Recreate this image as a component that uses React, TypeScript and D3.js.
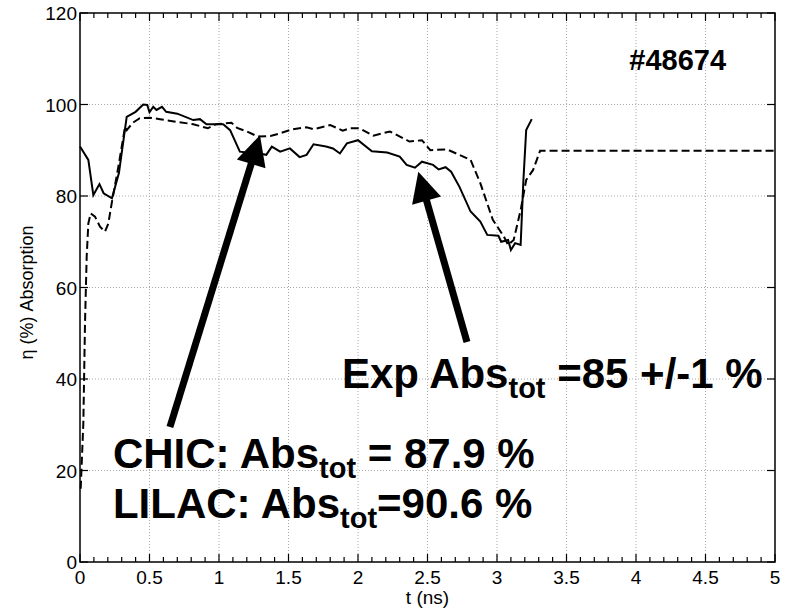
import React from "react";
import * as d3 from "d3";

const expT = [0, 0.06, 0.096, 0.14, 0.17, 0.23, 0.28, 0.336, 0.40, 0.455, 0.484, 0.50, 0.527, 0.55, 0.59, 0.62, 0.70, 0.815, 0.863, 0.91, 1.03, 1.08, 1.15, 1.20, 1.27, 1.34, 1.38, 1.44, 1.51, 1.58, 1.63, 1.68, 1.77, 1.82, 1.87, 1.92, 2.0, 2.10, 2.21, 2.30, 2.35, 2.41, 2.46, 2.54, 2.58, 2.63, 2.67, 2.73, 2.81, 2.88, 2.93, 3.01, 3.03, 3.08, 3.10, 3.13, 3.17, 3.19, 3.21, 3.25];
const expV = [90.8, 87.9, 80.2, 82.6, 80.6, 79.5, 85, 97.3, 98.4, 100, 99.9, 98.3, 99.5, 98.8, 99.5, 98.4, 98, 96.6, 96.8, 95.7, 95.7, 94.4, 89.7, 89.5, 89.4, 89, 90.8, 89.7, 90.4, 88.5, 89, 91.3, 90.8, 90.4, 89.3, 91.5, 92.2, 89.8, 89.5, 88.6, 86.8, 86.2, 87.5, 86.8, 85.8, 86.3, 85.3, 82, 76.6, 74.4, 71.5, 71.3, 70, 70.4, 68.2, 69.7, 69.3, 83.5, 94.4, 96.8];

const simT = [0.005, 0.024, 0.036, 0.048, 0.06, 0.077, 0.108, 0.144, 0.18, 0.204, 0.228, 0.276, 0.324, 0.336, 0.38, 0.43, 0.50, 0.576, 0.695, 0.815, 0.92, 0.98, 1.09, 1.13, 1.20, 1.28, 1.37, 1.44, 1.53, 1.63, 1.68, 1.80, 1.89, 1.94, 2.01, 2.11, 2.23, 2.37, 2.46, 2.52, 2.64, 2.81, 2.88, 2.97, 3.05, 3.08, 3.12, 3.17, 3.21, 3.26, 3.31, 5.0];
const simV = [16, 30.3, 52.2, 66.7, 74, 76.2, 75.5, 73.3, 72.2, 74, 78.4, 86.4, 95.1, 94.4, 96, 97, 97.1, 96.8, 96.2, 95.7, 94.8, 95.7, 96, 94.9, 94.1, 93, 93.1, 93.7, 94.6, 95, 94.6, 95.5, 94.3, 94.8, 94.8, 93.2, 94.1, 91.9, 92.2, 90, 90.2, 87.9, 82.8, 74.8, 71.1, 69.3, 70.4, 76.9, 83.5, 85.7, 89.9, 89.9];

const xTicks = [0, 0.5, 1, 1.5, 2, 2.5, 3, 3.5, 4, 4.5, 5];
const xTickLabels = ["0", "0.5", "1", "1.5", "2", "2.5", "3", "3.5", "4", "4.5", "5"];
const yTicks = [0, 20, 40, 60, 80, 100, 120];
const yTickLabels = ["0", "20", "40", "60", "80", "100", "120"];

// arrows in data units: [tailT, tailV, tipT, tipV]
const arrowChic = [0.647, 29.5, 1.295, 93.3];
const arrowExp = [2.784, 48.1, 2.434, 85.3];

const ML = 80, MR = 775, MT = 13, MB = 562;

export default function App() {
  const x = d3.scaleLinear().domain([0, 5]).range([ML, MR]);
  const y = d3.scaleLinear().domain([0, 120]).range([MB, MT]);
  const minorX = d3.range(0, 5.0001, 0.1).filter((v) => Math.abs(v * 2 - Math.round(v * 2)) > 1e-6);

  const lineGen = d3.line<[number, number]>().x((d) => x(d[0])).y((d) => y(d[1]));
  const expPath = lineGen(expT.map((t, i) => [t, expV[i]]) as [number, number][]) || "";
  const simPath = lineGen(simT.map((t, i) => [t, simV[i]]) as [number, number][]) || "";

  const arrow = (a: number[], key: string) => {
    const x1 = x(a[0]), y1 = y(a[1]), x2 = x(a[2]), y2 = y(a[3]);
    const dx = x2 - x1, dy = y2 - y1;
    const L = Math.hypot(dx, dy);
    const ux = dx / L, uy = dy / L;
    const hl = 30, hw = 15;
    const bx = x2 - ux * hl, by = y2 - uy * hl;
    const px = -uy, py = ux;
    const pts = [[x2, y2], [bx + px * hw, by + py * hw], [bx - px * hw, by - py * hw]];
    return (
      <g key={key}>
        <line x1={x1} y1={y1} x2={bx + ux * 2} y2={by + uy * 2} stroke="#000" strokeWidth={7} />
        <polygon points={pts.map((p) => p.join(",")).join(" ")} fill="#000" />
      </g>
    );
  };

  const font = "'Liberation Sans', Arial, Helvetica, sans-serif";

  return (
    <svg width={788} height={610} style={{ position: "absolute", left: 0, top: 0, background: "#fff" }} fontFamily={font}>
      <rect x={0} y={0} width={788} height={610} fill="#fff" />
      {/* grid */}
      {xTicks.slice(1, -1).map((t) => (
        <line key={"gx" + t} x1={x(t)} x2={x(t)} y1={MT} y2={MB} stroke="#a8a8a8" strokeWidth={1} strokeDasharray="1,2" />
      ))}
      {yTicks.slice(1, -1).map((v) => (
        <line key={"gy" + v} x1={ML} x2={MR} y1={y(v)} y2={y(v)} stroke="#a8a8a8" strokeWidth={1} strokeDasharray="1,2" />
      ))}
      {/* ticks */}
      {xTicks.map((t) => (
        <g key={"tx" + t}>
          <line x1={x(t)} x2={x(t)} y1={MB} y2={MB - 8} stroke="#000" strokeWidth={1.2} />
          <line x1={x(t)} x2={x(t)} y1={MT} y2={MT + 8} stroke="#000" strokeWidth={1.2} />
        </g>
      ))}
      {minorX.map((t) => (
        <g key={"mx" + t}>
          <line x1={x(t)} x2={x(t)} y1={MB} y2={MB - 5} stroke="#000" strokeWidth={1.2} />
          <line x1={x(t)} x2={x(t)} y1={MT} y2={MT + 5} stroke="#000" strokeWidth={1.2} />
        </g>
      ))}
      {yTicks.map((v) => (
        <g key={"ty" + v}>
          <line x1={ML} x2={ML + 8} y1={y(v)} y2={y(v)} stroke="#000" strokeWidth={1.2} />
          <line x1={MR} x2={MR - 8} y1={y(v)} y2={y(v)} stroke="#000" strokeWidth={1.2} />
        </g>
      ))}
      {/* data */}
      <path d={simPath} fill="none" stroke="#000" strokeWidth={2} strokeDasharray="8,4" />
      <path d={expPath} fill="none" stroke="#000" strokeWidth={2} />
      {/* box */}
      <rect x={ML} y={MT} width={MR - ML} height={MB - MT} fill="none" stroke="#000" strokeWidth={1.5} />
      {/* tick labels */}
      {xTicks.map((t, i) => (
        <text key={"lx" + t} x={x(t)} y={MB + 22} textAnchor="middle" fontSize={19} fill="#000">{xTickLabels[i]}</text>
      ))}
      {yTicks.map((v, i) => (
        <text key={"ly" + v} x={ML - 3} y={y(v) + 7} textAnchor="end" fontSize={19} fill="#000">{yTickLabels[i]}</text>
      ))}
      <text x={(ML + MR) / 2} y={604} textAnchor="middle" fontSize={19} fill="#000">t (ns)</text>
      <text transform={`translate(33,${(MT + MB) / 2 + 5}) rotate(-90)`} textAnchor="middle" fontSize={18} fill="#000">η (%) Absorption</text>
      {/* arrows */}
      {arrow(arrowChic, "a1")}
      {arrow(arrowExp, "a2")}
      {/* annotations */}
      <text x={x(4.3)} y={y(107.5)} textAnchor="middle" fontSize={29} fontWeight="bold" fill="#000">#48674</text>
      <text x={x(1.885)} y={y(38.0)} fontSize={42} fontWeight="bold" fill="#000">
        Exp Abs<tspan fontSize={29} dy={10}>tot</tspan><tspan dy={-10}> =85 +/-1 %</tspan>
      </text>
      <text x={x(0.237)} y={y(20.6)} fontSize={42} fontWeight="bold" fill="#000">
        CHIC: Abs<tspan fontSize={29} dy={10}>tot</tspan><tspan dy={-10}> = 87.9 %</tspan>
      </text>
      <text x={x(0.237)} y={y(9.6)} fontSize={42} fontWeight="bold" fill="#000">
        LILAC: Abs<tspan fontSize={29} dy={10}>tot</tspan><tspan dy={-10}>=90.6 %</tspan>
      </text>
    </svg>
  );
}
